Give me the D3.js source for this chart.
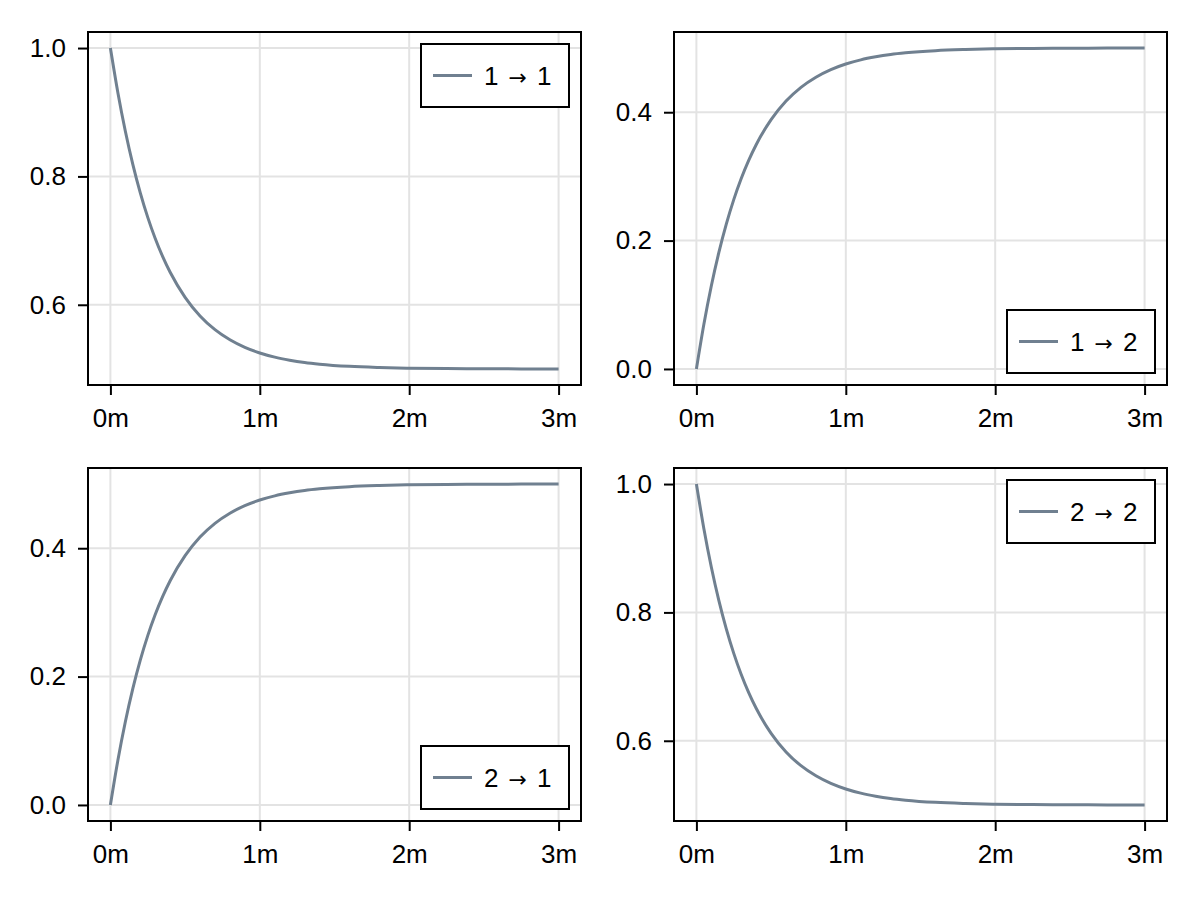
<!DOCTYPE html>
<html>
<head>
<meta charset="utf-8">
<script src="https://cdn.jsdelivr.net/npm/d3@7"></script>
<style>
  html, body { margin: 0; padding: 0; background: #fff; }
  svg { display: block; }
  text { font-family: "Liberation Sans", Arial, Helvetica, sans-serif; fill: #000; }
</style>
</head>
<body>
<svg id="chart" width="1200" height="900"></svg>
<script>
// Time in minutes
const timesMin = [0, 0.05, 0.1, 0.15, 0.2, 0.25, 0.3, 0.35, 0.4, 0.5, 0.6, 0.7, 0.8, 0.9, 1.0,
                  1.1, 1.2, 1.3, 1.4, 1.6, 1.8, 2.0, 2.25, 2.5, 2.75, 3.0];
// Transition probabilities
const p11 = [1.0000, 0.9304, 0.8704, 0.8188, 0.7744, 0.7362, 0.7033, 0.6750, 0.6506, 0.6116, 0.5826, 0.5612, 0.5454, 0.5336, 0.5249,
             0.5184, 0.5137, 0.5101, 0.5075, 0.5041, 0.5023, 0.5012, 0.5006, 0.5003, 0.5001, 0.5000];
const p12 = [0.0000, 0.0696, 0.1296, 0.1812, 0.2256, 0.2638, 0.2967, 0.3250, 0.3494, 0.3884, 0.4174, 0.4388, 0.4546, 0.4664, 0.4751,
             0.4816, 0.4863, 0.4899, 0.4925, 0.4959, 0.4977, 0.4988, 0.4994, 0.4997, 0.4999, 0.5000];
const p21 = [0.0000, 0.0696, 0.1296, 0.1812, 0.2256, 0.2638, 0.2967, 0.3250, 0.3494, 0.3884, 0.4174, 0.4388, 0.4546, 0.4664, 0.4751,
             0.4816, 0.4863, 0.4899, 0.4925, 0.4959, 0.4977, 0.4988, 0.4994, 0.4997, 0.4999, 0.5000];
const p22 = [1.0000, 0.9304, 0.8704, 0.8188, 0.7744, 0.7362, 0.7033, 0.6750, 0.6506, 0.6116, 0.5826, 0.5612, 0.5454, 0.5336, 0.5249,
             0.5184, 0.5137, 0.5101, 0.5075, 0.5041, 0.5023, 0.5012, 0.5006, 0.5003, 0.5001, 0.5000];

const panelFrom = ["1", "1", "2", "2"];
const panelTo = ["1", "2", "1", "2"];
const panelSeries = [p11, p12, p21, p22];
const legendPos = ["top", "bottom", "bottom", "top"];
const xTickValues = [0, 1, 2, 3];
const xTickLabels = ["0m", "1m", "2m", "3m"];
const yTicksDecay = [0.6, 0.8, 1.0];
const yTicksRise = [0.0, 0.2, 0.4];
const panelYTicks = [yTicksDecay, yTicksRise, yTicksRise, yTicksDecay];

const lineColor = "#708090";
const gridColor = "#e3e3e3";
const fontFam = '"Liberation Sans", Arial, Helvetica, sans-serif';
const fs = "26px";

const svg = d3.select("#chart");

const colX = [88, 674];
const rowY = [32, 468];
const pw = 493, ph = 353;

panelSeries.forEach((vals, i) => {
  const col = i % 2, row = Math.floor(i / 2);
  const x0 = colX[col], y0 = rowY[row];
  const g = svg.append("g").attr("transform", `translate(${x0},${y0})`);

  const xmin = d3.min(timesMin), xmax = d3.max(timesMin);
  const xpad = (xmax - xmin) * 0.05;
  const x = d3.scaleLinear().domain([xmin - xpad, xmax + xpad]).range([0, pw]);
  const ymin = d3.min(vals), ymax = d3.max(vals);
  const ypad = (ymax - ymin) * 0.05;
  const y = d3.scaleLinear().domain([ymin - ypad, ymax + ypad]).range([ph, 0]);

  // grid
  g.append("g").selectAll("line").data(xTickValues).join("line")
    .attr("x1", d => x(d)).attr("x2", d => x(d))
    .attr("y1", 0).attr("y2", ph)
    .attr("stroke", gridColor).attr("stroke-width", 2);
  g.append("g").selectAll("line").data(panelYTicks[i]).join("line")
    .attr("x1", 0).attr("x2", pw)
    .attr("y1", d => y(d)).attr("y2", d => y(d))
    .attr("stroke", gridColor).attr("stroke-width", 2);

  // curve
  const line = d3.line()
    .x((d, k) => x(timesMin[k]))
    .y(d => y(d))
    .curve(d3.curveMonotoneX);
  g.append("path").datum(vals)
    .attr("d", line)
    .attr("fill", "none")
    .attr("stroke", lineColor)
    .attr("stroke-width", 3);

  // axes
  const xAxis = d3.axisBottom(x).tickValues(xTickValues)
    .tickFormat((d, k) => xTickLabels[k]).tickSize(10).tickPadding(14);
  const xg = g.append("g").attr("transform", `translate(0,${ph})`).call(xAxis);
  xg.attr("font-size", null).attr("font-family", null);
  xg.select(".domain").remove();
  xg.selectAll(".tick line").attr("stroke", "#000").attr("stroke-width", 2);
  xg.selectAll(".tick text").style("font-size", fs).style("font-family", fontFam).attr("fill", "#000");

  const yAxis = d3.axisLeft(y).tickValues(panelYTicks[i])
    .tickFormat(d3.format(".1f")).tickSize(10).tickPadding(12);
  const yg = g.append("g").call(yAxis);
  yg.attr("font-size", null).attr("font-family", null);
  yg.select(".domain").remove();
  yg.selectAll(".tick line").attr("stroke", "#000").attr("stroke-width", 2);
  yg.selectAll(".tick text").style("font-size", fs).style("font-family", fontFam).attr("fill", "#000");

  // frame
  g.append("rect").attr("x", 0).attr("y", 0).attr("width", pw).attr("height", ph)
    .attr("fill", "none").attr("stroke", "#000").attr("stroke-width", 2);

  // legend
  const lw = 148, lh = 63;
  const lx = pw - 12 - lw;
  const ly = legendPos[i] === "top" ? 12 : ph - 12 - lh;
  const lg = g.append("g").attr("transform", `translate(${lx},${ly})`);
  lg.append("rect").attr("width", lw).attr("height", lh)
    .attr("fill", "#fff").attr("stroke", "#000").attr("stroke-width", 2);
  lg.append("line").attr("x1", 12).attr("x2", 51)
    .attr("y1", lh / 2).attr("y2", lh / 2)
    .attr("stroke", lineColor).attr("stroke-width", 3);
  const t = lg.append("text").attr("x", 63).attr("y", lh / 2).attr("dy", "0.36em")
    .style("font-size", fs).style("font-family", fontFam);
  t.append("tspan").text(panelFrom[i]);
  t.append("tspan").attr("dx", 10).style("font-family", '"DejaVu Sans", sans-serif').style("font-size", "22px").text("\u2192");
  t.append("tspan").attr("dx", 10).text(panelTo[i]);
});
</script>
</body>
</html>
